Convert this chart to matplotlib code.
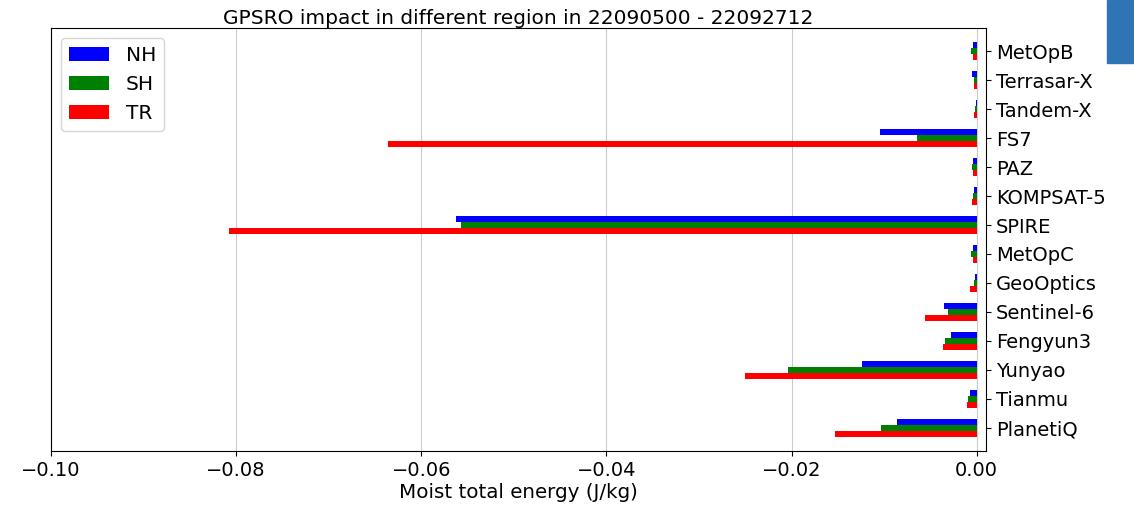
import matplotlib.pyplot as plt
import numpy as np
from matplotlib.patches import Rectangle

satellites = ["MetOpB", "Terrasar-X", "Tandem-X", "FS7", "PAZ", "KOMPSAT-5", "SPIRE",
              "MetOpC", "GeoOptics", "Sentinel-6", "Fengyun3", "Yunyao", "Tianmu", "PlanetiQ"]
nh = [-0.00045, -0.0005, -0.00005, -0.0104, -0.00038, -0.00027, -0.0562,
      -0.0004, -0.0002, -0.00355, -0.0028, -0.0124, -0.00074, -0.0086]
sh = [-0.0006, -0.0003, -0.00015, -0.00646, -0.0005, -0.0004, -0.0557,
      -0.0006, -0.0003, -0.0031, -0.0034, -0.0204, -0.0009, -0.0103]
tr = [-0.00045, -0.00035, -0.00027, -0.0636, -0.00045, -0.0005, -0.0808,
      -0.00045, -0.0007, -0.00564, -0.0036, -0.0250, -0.0011, -0.0153]

fig = plt.figure(figsize=(11.34, 5.05), dpi=100)
ax = fig.add_axes([51 / 1134, 1 - 451 / 505, 935 / 1134, 423 / 505])

y = np.arange(len(satellites))
h = 0.2
ax.barh(y - h, nh, height=h, color="blue", label="NH")
ax.barh(y, sh, height=h, color="green", label="SH")
ax.barh(y + h, tr, height=h, color="red", label="TR")

ax.set_yticks(y)
ax.set_yticklabels(satellites)
ax.yaxis.tick_right()
ax.set_ylim(13.8, -0.8)
ax.set_xlim(-0.1, 0.001)
ax.set_xticks([-0.1, -0.08, -0.06, -0.04, -0.02, 0.0])
ax.xaxis.grid(True, color="#cccccc")
ax.set_axisbelow(True)
ax.tick_params(labelsize=14)
ax.set_xlabel("Moist total energy (J/kg)", fontsize=14.3, labelpad=2)
ax.set_title("GPSRO impact in different region in 22090500 - 22092712", fontsize=14.5, pad=3)
ax.legend(loc="upper left", fontsize=14.5)

fig.patches.append(Rectangle((1107 / 1134, 1 - 63 / 505), 27 / 1134, 63 / 505,
                             transform=fig.transFigure, color="#2e75b6", zorder=5))

fig.savefig("out.png", dpi=100)
